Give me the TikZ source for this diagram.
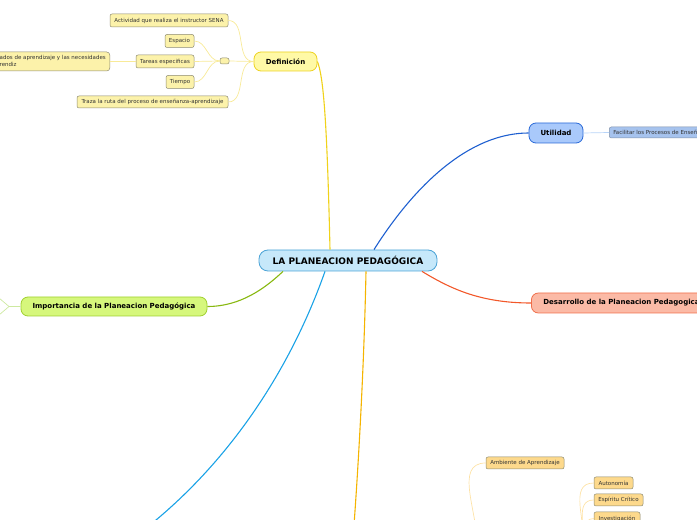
\documentclass[tikz,border=0pt]{standalone}
\usepackage{fontspec}
\setmainfont{DejaVu Sans}
\definecolor{planfill}{HTML}{C6E8FA}
\definecolor{plandraw}{HTML}{4BA3D6}
\definecolor{deffill}{HTML}{FFF9A6}
\definecolor{defdraw}{HTML}{EDD220}
\definecolor{defline}{HTML}{F0D21A}
\definecolor{deflight}{HTML}{F8EA98}
\definecolor{kidfill}{HTML}{FCF2AA}
\definecolor{kiddraw}{HTML}{8C8A72}
\definecolor{utifill}{HTML}{A9C9FB}
\definecolor{utidraw}{HTML}{2A6AD8}
\definecolor{utiline}{HTML}{1E5FD0}
\definecolor{utilight}{HTML}{B8D4F8}
\definecolor{facfill}{HTML}{A6C3EE}
\definecolor{facdraw}{HTML}{8090A8}
\definecolor{desfill}{HTML}{FBBAA6}
\definecolor{desdraw}{HTML}{F0704C}
\definecolor{desline}{HTML}{F2582A}
\definecolor{impfill}{HTML}{D6F77C}
\definecolor{impdraw}{HTML}{A0D030}
\definecolor{impline}{HTML}{88B810}
\definecolor{implight}{HTML}{CDE9A0}
\definecolor{cyanline}{HTML}{1AA2E6}
\definecolor{orgline}{HTML}{F5B400}
\definecolor{orgfill}{HTML}{FDD98C}
\definecolor{orglight}{HTML}{FDE2A6}
\definecolor{txt}{HTML}{333333}

\begin{document}
\begin{tikzpicture}[x=1pt,y=1pt,
  main/.style={draw=plandraw,fill=planfill,line width=0.8pt,rounded corners=9pt,
    minimum width=178pt,minimum height=21pt,inner sep=0pt,
    font=\bfseries\fontsize{9}{10}\selectfont},
  topic/.style={line width=0.8pt,rounded corners=7pt,minimum height=19pt,inner sep=0pt,
    font=\bfseries\fontsize{7}{8}\selectfont},
  leaf/.style={draw=kiddraw,fill=kidfill,line width=0.5pt,rounded corners=2pt,
    minimum height=13pt,inner sep=0pt,text=txt,font=\fontsize{5.5}{6.2}\selectfont},
  branch/.style={line width=1.1pt},
  twig/.style={line width=0.7pt}]
  \useasboundingbox (0,0) rectangle (697,520);
  \clip (0,0) rectangle (697,520);

  \node[main] (plan) at (348,259.5) {LA PLANEACION PEDAGÓGICA};

  \node[topic,draw=defdraw,fill=deffill,minimum width=63pt] (def) at (285.5,458.5) {Definición};
  \node[leaf,minimum width=9pt,minimum height=6pt] (dot) at (224.5,459) {};
  \node[leaf,minimum width=118pt] (act) at (169,499.5) {Actividad que realiza el instructor SENA};
  \node[leaf,minimum width=29pt] (esp) at (179.5,479) {Espacio};
  \node[leaf,minimum width=58pt] (tar) at (165,458.5) {Tareas especificas};
  \node[leaf,minimum width=28pt] (tie) at (180,438) {Tiempo};
  \node[leaf,minimum width=151pt,minimum height=12pt] (tra) at (152.5,418) {Traza la ruta del proceso de enseñanza-aprendizaje};
  \node[leaf,anchor=east,minimum height=19pt,inner xsep=4pt,align=left,rounded corners=3pt] (res) at (110,458.5)
    {Resultados de aprendizaje y las necesidades\\del aprendiz};

  \node[topic,draw=utidraw,fill=utifill,minimum width=54pt,minimum height=20pt] (uti) at (556,387) {Utilidad};
  \node[leaf,draw=facdraw,fill=facfill,anchor=west,minimum height=11pt,inner xsep=4pt] (fac) at (609,387.5)
    {Facilitar los Procesos de Enseñanza-Aprendizaje};

  \node[topic,draw=desdraw,fill=desfill,anchor=west,minimum height=20pt,inner xsep=12pt] (des) at (531,217)
    {Desarrollo de la Planeacion Pedagogica};

  \node[topic,draw=impdraw,fill=impfill,minimum width=186pt] (imp) at (114,213.5)
    {Importancia de la Planeacion Pedagógica};
  \coordinate (impfork) at (9,213.5);
  \coordinate (impup) at (-1,222);
  \coordinate (impdown) at (-1,205);

  \node[leaf,fill=orgfill,minimum width=78pt,minimum height=12pt] (amb) at (525,57) {Ambiente de Aprendizaje};
  \node[leaf,fill=orgfill,minimum width=39pt,minimum height=12pt] (aut) at (613.5,37) {Autonomía};
  \node[leaf,fill=orgfill,minimum width=49pt,minimum height=12pt] (crit) at (618.5,20) {Espíritu Crítico};
  \node[leaf,fill=orgfill,minimum width=46pt] (inv) at (617,1.5) {Investigación};
  \coordinate (cyanend) at (150,-5);
  \coordinate (orgend) at (354,-5);
  \coordinate (ambroot) at (477,-25);
  \coordinate (autroot) at (583,-30);

  \draw[branch,defline] ([xshift=-18pt]plan.north) .. controls +(-3,130) and +(6,-15) .. (def.east);
  \draw[branch,utiline] ([xshift=26pt]plan.north) .. controls +(41,65) and +(-59,0) .. (uti.west);
  \draw[branch,desline] ([xshift=74pt]plan.south) .. controls +(28,-17) and +(-51,0) .. (des.west);
  \draw[branch,impline] ([xshift=-65pt]plan.south) .. controls +(-18,-17) and +(33,0) .. (imp.east);
  \draw[branch,cyanline] ([xshift=-23pt]plan.south) .. controls +(-35,-99) and +(80,65) .. (cyanend);
  \draw[branch,orgline] ([xshift=18pt]plan.south) .. controls +(-2,-99) and +(4,55) .. (orgend);

  \draw[twig,deflight] (def.west) -- (dot.east);
  \draw[twig,deflight] (def.west) to[out=180,in=0] (act.east);
  \draw[twig,deflight] (def.west) to[out=180,in=0] (tra.east);
  \draw[twig,deflight] (dot.west) to[out=180,in=0] (esp.east);
  \draw[twig,deflight] (dot.west) -- (tar.east);
  \draw[twig,deflight] (dot.west) to[out=180,in=0] (tie.east);
  \draw[twig,deflight] (tar.west) -- (res.east);

  \draw[twig,utilight] (uti.east) -- (fac.west);

  \draw[twig,implight] (imp.west) -- (impfork) -- (impup);
  \draw[twig,implight] (impfork) -- (impdown);

  \draw[twig,orglight] (ambroot) to[out=88,in=180] (amb.west);
  \draw[twig,orglight] (autroot) to[out=80,in=180] (aut.west);
  \draw[twig,orglight] (autroot) to[out=80,in=180] (crit.west);
  \draw[twig,orglight] (autroot) to[out=80,in=180] (inv.west);
\end{tikzpicture}
\end{document}
